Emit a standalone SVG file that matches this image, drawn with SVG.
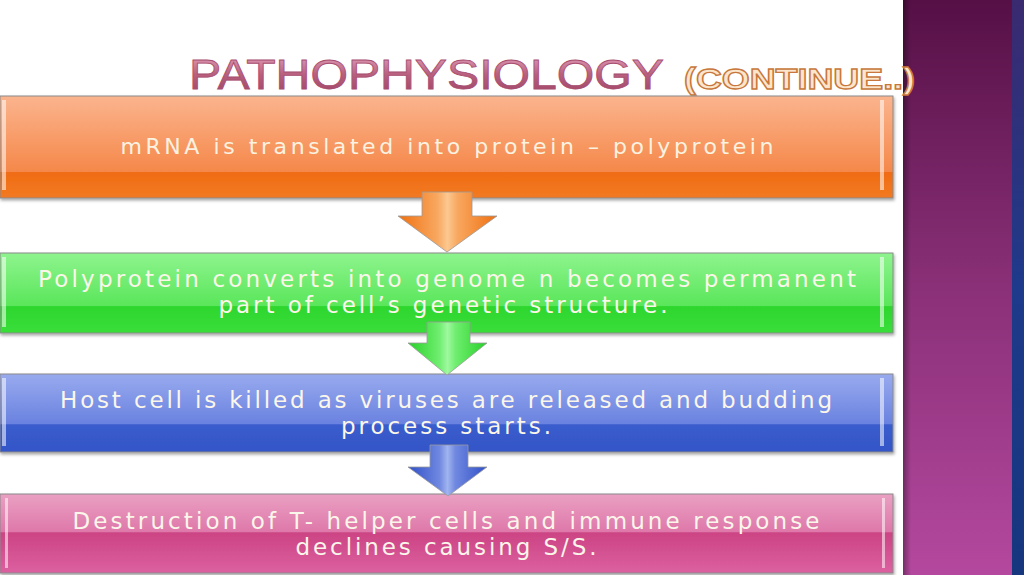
<svg xmlns="http://www.w3.org/2000/svg" width="1024" height="575" viewBox="0 0 1024 575">
<defs>
<linearGradient id="side" x1="0" y1="0" x2="0" y2="1">
<stop offset="0" stop-color="#561046"/><stop offset="0.5" stop-color="#8a3078"/><stop offset="1" stop-color="#b4489e"/>
</linearGradient>
<linearGradient id="sideEdge" x1="0" y1="0" x2="1" y2="0">
<stop offset="0" stop-color="#000" stop-opacity="0.35"/><stop offset="1" stop-color="#000" stop-opacity="0"/>
</linearGradient>
<linearGradient id="strip" x1="0" y1="0" x2="0" y2="1">
<stop offset="0" stop-color="#3a2a70"/><stop offset="0.5" stop-color="#1e3a8a"/><stop offset="1" stop-color="#16367e"/>
</linearGradient>
<linearGradient id="title" x1="0" y1="0" x2="0" y2="1">
<stop offset="0" stop-color="#e8a8c0"/><stop offset="0.5" stop-color="#b8607e"/><stop offset="1" stop-color="#9c4062"/>
</linearGradient>
<linearGradient id="gO" x1="0" y1="0" x2="0" y2="1">
<stop offset="0" stop-color="#fbb48e"/><stop offset="0.74" stop-color="#f5884a"/><stop offset="0.75" stop-color="#f06c14"/><stop offset="1" stop-color="#f27a22"/>
</linearGradient>
<linearGradient id="gG" x1="0" y1="0" x2="0" y2="1">
<stop offset="0" stop-color="#8ef48e"/><stop offset="0.66" stop-color="#5ae65a"/><stop offset="0.67" stop-color="#2ed62e"/><stop offset="1" stop-color="#3ade3a"/>
</linearGradient>
<linearGradient id="gB" x1="0" y1="0" x2="0" y2="1">
<stop offset="0" stop-color="#98aaee"/><stop offset="0.64" stop-color="#6a82e0"/><stop offset="0.65" stop-color="#3a5ccc"/><stop offset="1" stop-color="#3456c8"/>
</linearGradient>
<linearGradient id="gP" x1="0" y1="0" x2="0" y2="1">
<stop offset="0" stop-color="#eaa0c2"/><stop offset="0.48" stop-color="#de78aa"/><stop offset="0.49" stop-color="#cc4484"/><stop offset="1" stop-color="#dc60a0"/>
</linearGradient>
<linearGradient id="aO" x1="0" y1="0" x2="1" y2="0">
<stop offset="0" stop-color="#f07010"/><stop offset="0.4" stop-color="#f8a860"/><stop offset="0.5" stop-color="#fcc890"/><stop offset="0.6" stop-color="#f8a860"/><stop offset="1" stop-color="#f07010"/>
</linearGradient>
<linearGradient id="aG" x1="0" y1="0" x2="1" y2="0">
<stop offset="0" stop-color="#28d028"/><stop offset="0.4" stop-color="#70ee70"/><stop offset="0.5" stop-color="#a0f8a0"/><stop offset="0.6" stop-color="#70ee70"/><stop offset="1" stop-color="#28d028"/>
</linearGradient>
<linearGradient id="aB" x1="0" y1="0" x2="1" y2="0">
<stop offset="0" stop-color="#3050c8"/><stop offset="0.4" stop-color="#7088e0"/><stop offset="0.5" stop-color="#a0b4f0"/><stop offset="0.6" stop-color="#7088e0"/><stop offset="1" stop-color="#3050c8"/>
</linearGradient>
<filter id="sh" x="-5%" y="-20%" width="110%" height="150%">
<feDropShadow dx="1" dy="2" stdDeviation="1.5" flood-color="#000" flood-opacity="0.35"/>
</filter>
</defs>
<style>
.box{stroke:#8a8a8a;stroke-width:1;filter:url(#sh)}
.hl{fill:#ffffff;opacity:0.55}
.t{font-family:"DejaVu Sans","Liberation Sans",sans-serif;font-size:23px;fill:#fbf6ea;text-anchor:middle}
.t1{font-family:"DejaVu Sans","Liberation Sans",sans-serif;font-size:22px;fill:#fbf2e0;text-anchor:middle}
.arr{stroke:#9a9a9a;stroke-width:0.8}
</style>
<rect x="0" y="0" width="1024" height="575" fill="#ffffff"/>
<g id="sidebar">
<rect x="903" y="0" width="110" height="575" fill="url(#side)"/>
<rect x="903" y="0" width="8" height="575" fill="url(#sideEdge)"/>
<rect x="1012" y="0" width="12" height="575" fill="url(#strip)"/>
</g>
<g id="title">
<text x="189" y="89" font-family="'Liberation Sans',sans-serif" font-size="42" fill="url(#title)" stroke="#a84e70" stroke-width="0.8" textLength="475" lengthAdjust="spacingAndGlyphs">PATHOPHYSIOLOGY</text>
<text x="684" y="89" font-family="'Liberation Sans',sans-serif" font-size="29" font-weight="bold" fill="#fbe6cc" stroke="#c8783c" stroke-width="1.3" textLength="231" lengthAdjust="spacingAndGlyphs">(CONTINUE..)</text>
</g>
<g id="node1">
<rect class="box" x="0" y="96" width="893" height="102" fill="url(#gO)"/>
<rect class="hl" x="2" y="100" width="4" height="90"/>
<rect class="hl" x="880" y="100" width="4" height="90"/>
<text class="t1" x="447" y="154" textLength="653">mRNA is translated into protein – polyprotein</text>
</g>
<g id="node2">
<rect class="box" x="0" y="253" width="893" height="80" fill="url(#gG)"/>
<rect class="hl" x="2" y="257" width="4" height="70"/>
<rect class="hl" x="880" y="257" width="4" height="70"/>
<text class="t" x="447" y="287" textLength="818">Polyprotein converts into genome n becomes permanent</text>
<text class="t" x="443" y="313" textLength="449">part of cell’s genetic structure.</text>
</g>
<g id="node3">
<rect class="box" x="0" y="374" width="893" height="78" fill="url(#gB)"/>
<rect class="hl" x="2" y="378" width="4" height="68"/>
<rect class="hl" x="880" y="378" width="4" height="68"/>
<text class="t" x="446" y="408" textLength="772">Host cell is killed as viruses are released and budding</text>
<text class="t" x="446" y="434" textLength="210">process starts.</text>
</g>
<g id="node4">
<rect class="box" x="0" y="494" width="893" height="79" fill="url(#gP)"/>
<rect class="hl" x="5" y="498" width="3" height="70"/>
<rect class="hl" x="882" y="498" width="3" height="70"/>
<text class="t" x="446" y="529" textLength="747">Destruction of T- helper cells and immune response</text>
<text class="t" x="446" y="555" textLength="301">declines causing S/S.</text>
</g>
<g id="connectors">
<polygon class="arr" points="422,192 472,192 472,216 497,216 447,252 398,216 422,216" fill="url(#aO)"/>
<polygon class="arr" points="427,322 470,322 470,343 487,343 447,375 408,343 427,343" fill="url(#aG)"/>
<polygon class="arr" points="430,445 468,445 468,467 487,467 448,496 408,467 430,467" fill="url(#aB)"/>
</g>
</svg>
